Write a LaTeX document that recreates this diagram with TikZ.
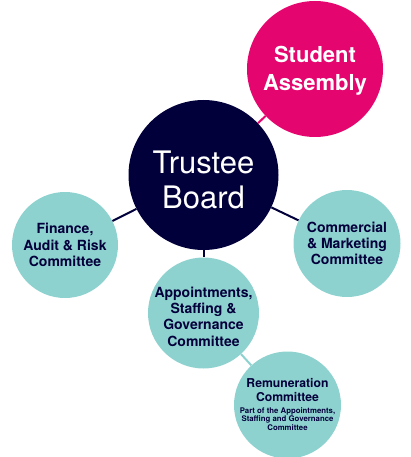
\documentclass[tikz,border=0pt]{standalone}
\usepackage{fontspec}
\setmainfont{TeX Gyre Heros}
\definecolor{boardnavy}{RGB}{2,0,58}
\definecolor{assemblypink}{RGB}{229,5,110}
\definecolor{cteal}{RGB}{142,210,208}

\begin{document}
\begin{tikzpicture}[x=1pt,y=-1pt,
		disc/.style={circle, inner sep=0pt, draw=none},
		link/.style={line width=2pt, draw=boardnavy},
		cttext/.style={align=center, inner sep=0pt, text=boardnavy, font=\bfseries\fontsize{14}{16.3}\selectfont}]
	\useasboundingbox (0,0) rectangle (410,457);
	
	\coordinate (TB) at (203.5,175);
	\coordinate (SA) at (315,69);
	\coordinate (FA) at (65,245);
	\coordinate (CM) at (347,243.5);
	\coordinate (AS) at (203.5,313);
	\coordinate (RC) at (287.5,405);
	
	\node[disc, fill=boardnavy, minimum size=150] (board) at (TB) {};
	\node[disc, fill=assemblypink, minimum size=136] (assembly) at (SA) {};
	\node[disc, fill=cteal, minimum size=106] (finance) at (FA) {};
	\node[disc, fill=cteal, minimum size=107] (commercial) at (CM) {};
	\node[disc, fill=cteal, minimum size=111] (appoint) at (AS) {};
	\node[disc, fill=cteal, minimum size=107] (remun) at (RC) {};
	
	\draw[link, draw=assemblypink] (board) -- (assembly);
	\draw[link] (board) -- (finance);
	\draw[link] (board) -- (commercial);
	\draw[link] (board) -- (appoint);
	\draw[link, draw=cteal] (appoint) -- (remun);
	
	\node[align=center, inner sep=0pt, text=white, font=\fontsize{31}{35}\selectfont, yshift=-4.9pt] (boardtxt) at (board) {Trustee\\Board};
	\node[align=center, inner sep=0pt, text=white, font=\bfseries\fontsize{22}{28.5}\selectfont, yshift=-2pt] (assemblytxt) at (assembly) {Student\\Assembly};
	\node[cttext] (financetxt) at (finance) {Finance,\\Audit \& Risk\\Committee};
	\node[cttext] (commercialtxt) at (commercial) {Commercial\\\& Marketing\\Committee};
	\node[cttext, yshift=-3.5pt] (appointtxt) at (appoint) {Appointments,\\Staffing \&\\Governance\\Committee};
	\node[cttext, font=\bfseries\fontsize{12.2}{14}\selectfont, yshift=15pt] (remuntxt) at (remun) {Remuneration\\Committee};
	\node[cttext, font=\bfseries\fontsize{7.8}{8.5}\selectfont, yshift=-13.7pt] (remunnote) at (remun) {Part of the Appointments,\\Staffing and Governance\\Committee};
\end{tikzpicture}
\end{document}
